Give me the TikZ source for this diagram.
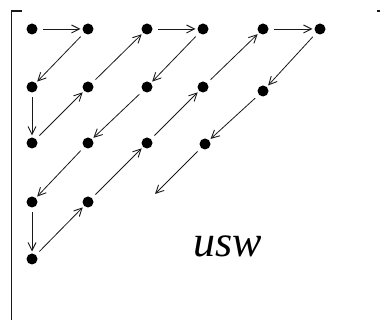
\documentclass[tikz,border=0pt]{standalone}
\usepackage{fontspec}
\setmainfont{Liberation Serif}
\usetikzlibrary{arrows.meta}
\begin{document}
\begin{tikzpicture}[x=1pt,y=-1pt,
  dot/.style={circle,fill=black,inner sep=0pt,minimum size=11pt,outer sep=0pt},
  arr/.style={draw=black!90,line width=0.8pt,-{Straight Barb[length=8pt,width=8pt,line width=0.9pt]},shorten <=5pt,shorten >=2pt},
  frame/.style={line width=1.1pt,black!90}]
\useasboundingbox (0,0) rectangle (380,320);
\draw[frame] (11.5,320) -- (11.5,11) -- (22,11);
\draw[frame] (377,11) -- (380,11);
\node[dot] (a11) at (32,29) {};
\node[dot] (a12) at (88,29) {};
\node[dot] (a13) at (147,29) {};
\node[dot] (a14) at (203,29) {};
\node[dot] (a15) at (263,29) {};
\node[dot] (a16) at (320,29) {};
\node[dot] (a21) at (32,87) {};
\node[dot] (a22) at (88,87) {};
\node[dot] (a23) at (147,87) {};
\node[dot] (a24) at (203,87) {};
\node[dot] (a25) at (263,91) {};
\node[dot] (a31) at (32,143) {};
\node[dot] (a32) at (88,143) {};
\node[dot] (a33) at (147,143) {};
\node[dot] (a34) at (205,144) {};
\node[dot] (a41) at (32,202) {};
\node[dot] (a42) at (88,202) {};
\node[dot] (a51) at (32,259) {};
\coordinate (e) at (155,194);
\draw[arr] (a11) -- (a12);
\draw[arr] (a12) -- (a21);
\draw[arr] (a21) -- (a31);
\draw[arr] (a31) -- (a22);
\draw[arr] (a22) -- (a13);
\draw[arr] (a13) -- (a14);
\draw[arr] (a14) -- (a23);
\draw[arr] (a23) -- (a32);
\draw[arr] (a32) -- (a41);
\draw[arr] (a41) -- (a51);
\draw[arr] (a51) -- (a42);
\draw[arr] (a42) -- (a33);
\draw[arr] (a33) -- (a24);
\draw[arr] (a24) -- (a15);
\draw[arr] (a15) -- (a16);
\draw[arr] (a16) -- (a25);
\draw[arr] (a25) -- (a34);
\draw[arr,shorten >=0pt] (a34) -- (e);
\node[anchor=base west,inner sep=0pt,font=\fontsize{44}{44}\selectfont\itshape] (t) at (193,257) {usw};
\end{tikzpicture}
\end{document}
